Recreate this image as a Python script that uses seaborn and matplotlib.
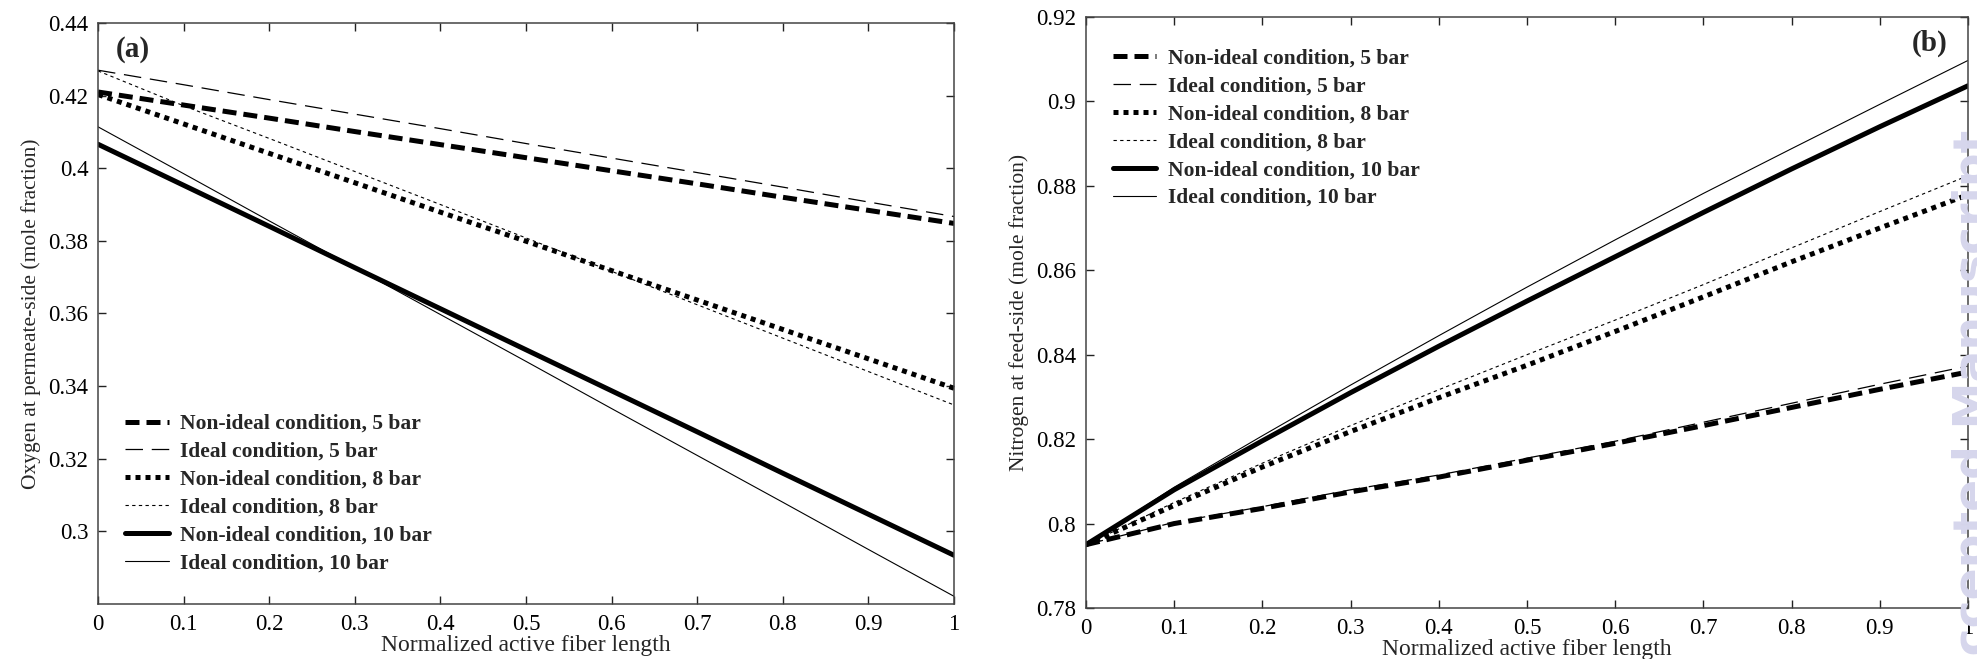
import numpy as np
import pandas as pd
import matplotlib
matplotlib.use("Agg")
import matplotlib.pyplot as plt
import seaborn as sns

# ---------------- data ----------------
x_len = [0.0, 0.1, 0.2, 0.3, 0.4, 0.5, 0.6, 0.7, 0.8, 0.9, 1.0]

labels = ["Non-ideal condition, 5 bar", "Ideal condition, 5 bar",
          "Non-ideal condition, 8 bar", "Ideal condition, 8 bar",
          "Non-ideal condition, 10 bar", "Ideal condition, 10 bar"]

# (a) oxygen at permeate side
o2_nonideal_5 = [0.4210, 0.4174, 0.4138, 0.4101, 0.4065, 0.4029, 0.3993, 0.3957, 0.3920, 0.3884, 0.3848]
o2_ideal_5 = [0.4270, 0.4230, 0.4189, 0.4149, 0.4109, 0.4068, 0.4028, 0.3988, 0.3948, 0.3907, 0.3867]
o2_nonideal_8 = [0.4203, 0.4122, 0.4041, 0.3960, 0.3879, 0.3799, 0.3718, 0.3637, 0.3556, 0.3475, 0.3394]
o2_ideal_8 = [0.4268, 0.4172, 0.4082, 0.3991, 0.3900, 0.3808, 0.3716, 0.3624, 0.3532, 0.3440, 0.3348]
o2_nonideal_10 = [0.4066, 0.3953, 0.3840, 0.3726, 0.3613, 0.3500, 0.3387, 0.3274, 0.3160, 0.3047, 0.2934]
o2_ideal_10 = [0.4114, 0.3985, 0.3855, 0.3726, 0.3597, 0.3468, 0.3338, 0.3209, 0.3080, 0.2950, 0.2821]

# (b) nitrogen at feed side
n2_nonideal_5 = [0.7950, 0.8000, 0.8036, 0.8075, 0.8110, 0.8150, 0.8190, 0.8232, 0.8275, 0.8318, 0.8359]
n2_ideal_5 = [0.7950, 0.8003, 0.8040, 0.8080, 0.8115, 0.8155, 0.8195, 0.8240, 0.8285, 0.8330, 0.8373]
n2_nonideal_8 = [0.7950, 0.8043, 0.8134, 0.8218, 0.8298, 0.8375, 0.8455, 0.8537, 0.8620, 0.8700, 0.8779]
n2_ideal_8 = [0.7950, 0.8050, 0.8143, 0.8232, 0.8317, 0.8400, 0.8482, 0.8566, 0.8653, 0.8739, 0.8824]
n2_nonideal_10 = [0.7950, 0.8080, 0.8196, 0.8310, 0.8420, 0.8527, 0.8632, 0.8737, 0.8840, 0.8940, 0.9037]
n2_ideal_10 = [0.7950, 0.8086, 0.8208, 0.8328, 0.8445, 0.8560, 0.8672, 0.8782, 0.8888, 0.8993, 0.9097]

xticks = [0, 0.1, 0.2, 0.3, 0.4, 0.5, 0.6, 0.7, 0.8, 0.9, 1]
xtick_labels = ["0", "0.1", "0.2", "0.3", "0.4", "0.5", "0.6", "0.7", "0.8", "0.9", "1"]
a_yticks = [0.30, 0.32, 0.34, 0.36, 0.38, 0.40, 0.42, 0.44]
a_ytick_labels = ["0.3", "0.32", "0.34", "0.36", "0.38", "0.4", "0.42", "0.44"]
b_yticks = [0.78, 0.80, 0.82, 0.84, 0.86, 0.88, 0.90, 0.92]
b_ytick_labels = ["0.78", "0.8", "0.82", "0.84", "0.86", "0.88", "0.9", "0.92"]

# ---------------- style ----------------
sns.set_style("ticks")
plt.rcParams["font.family"] = ["Liberation Serif", "DejaVu Serif"]
plt.rcParams["xtick.direction"] = "in"
plt.rcParams["ytick.direction"] = "in"

styles = [
    dict(color="black", linewidth=3.6, linestyle=(0, (2.8, 1.4))),     # non-ideal 5
    dict(color="black", linewidth=0.9, linestyle=(0, (14, 7))),        # ideal 5
    dict(color="black", linewidth=3.6, linestyle=(0, (1.0, 1.0))),     # non-ideal 8
    dict(color="black", linewidth=0.8, linestyle=(0, (3, 3))),         # ideal 8
    dict(color="black", linewidth=3.6, linestyle="-"),                 # non-ideal 10
    dict(color="black", linewidth=0.8, linestyle="-"),                 # ideal 10
]

fig = plt.figure(figsize=(19.77, 6.59), dpi=100)
ax_a = fig.add_axes([0.0496, 0.0835, 0.4330, 0.8816])
ax_b = fig.add_axes([0.5493, 0.0774, 0.4461, 0.8968])

series_a = [o2_nonideal_5, o2_ideal_5, o2_nonideal_8, o2_ideal_8, o2_nonideal_10, o2_ideal_10]
series_b = [n2_nonideal_5, n2_ideal_5, n2_nonideal_8, n2_ideal_8, n2_nonideal_10, n2_ideal_10]

for ax, series in ((ax_a, series_a), (ax_b, series_b)):
    for lab, ys, st in zip(labels, series, styles):
        df = pd.DataFrame({"x": x_len, "y": ys})
        sns.lineplot(data=df, x="x", y="y", ax=ax, label=lab, **st)

def finish(ax, yticks, ylabels, ylim, ylab):
    ax.set_xlim(0, 1)
    ax.set_ylim(*ylim)
    ax.set_xticks(xticks)
    ax.set_xticklabels(xtick_labels)
    ax.set_yticks(yticks)
    ax.set_yticklabels(ylabels)
    ax.tick_params(axis="both", which="both", direction="in", length=6, width=1,
                   top=True, right=True, labelsize=16.5, colors="#222222", pad=7)
    for s in ax.spines.values():
        s.set_visible(True)
        s.set_linewidth(1.1)
        s.set_color("#444444")
    ax.set_xlabel("Normalized active fiber length", fontsize=17, labelpad=0)
    ax.set_ylabel(ylab, fontsize=15.5, labelpad=5)
    for t in ax.get_xticklabels() + ax.get_yticklabels():
        t.set_color("black")

finish(ax_a, a_yticks, a_ytick_labels, (0.28, 0.44), "Oxygen at permeate-side (mole fraction)")
finish(ax_b, b_yticks, b_ytick_labels, (0.78, 0.92), "Nitrogen at feed-side (mole fraction)")

leg_kw = dict(frameon=False, fontsize=15.5, handlelength=2.0,
              handletextpad=0.55, labelspacing=0.36, borderpad=0, borderaxespad=0)
la = ax_a.legend(loc="upper left", bbox_to_anchor=(0.032, 0.327), **leg_kw)
lb = ax_b.legend(loc="upper left", bbox_to_anchor=(0.031, 0.946), **leg_kw)
for lg in (la, lb):
    for t in lg.get_texts():
        t.set_fontweight("bold")

ax_a.text(0.021, 0.955, "(a)", transform=ax_a.transAxes, fontsize=21,
          fontweight="bold", va="center", ha="left")
ax_b.text(0.977, 0.955, "(b)", transform=ax_b.transAxes, fontsize=21,
          fontweight="bold", va="center", ha="right")

fig.text(0.9985, -0.05, "Accepted Manuscript", rotation=90, color="#d6d6ec",
         fontsize=34, fontweight="bold", family="DejaVu Sans", ha="center", va="bottom")

fig.savefig("out.png", dpi=100)
